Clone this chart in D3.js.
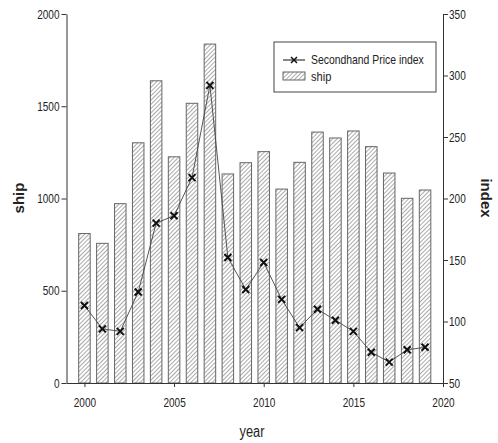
<!DOCTYPE html>
<html>
<head>
<meta charset="utf-8">
<script src="https://cdn.jsdelivr.net/npm/d3@7"></script>
<style>
  body { margin: 0; background: #fff; }
  svg text { font-family: "Liberation Sans", Arial, sans-serif; fill: #222; }
</style>
</head>
<body>
<svg id="chart" width="498" height="443"></svg>
<script>
// data
const years = [2000, 2001, 2002, 2003, 2004, 2005, 2006, 2007, 2008, 2009,
               2010, 2011, 2012, 2013, 2014, 2015, 2016, 2017, 2018, 2019];
const ship = [810, 757, 972, 1302, 1638, 1226, 1516, 1837, 1133, 1194,
              1254, 1051, 1196, 1360, 1328, 1366, 1281, 1138, 1001, 1046];
const priceIndex = [113, 94, 92, 124, 180, 186, 217, 292, 152, 126,
                    148, 118, 95, 110, 101, 92, 75, 67, 77, 79];
const xTicks = [2000, 2005, 2010, 2015, 2020];
const shipTicks = [0, 500, 1000, 1500, 2000];
const indexTicks = [50, 100, 150, 200, 250, 300, 350];

const svg = d3.select("#chart");
const plotL = 66.5, plotR = 443, plotT = 14, plotB = 383;

const x = d3.scaleLinear().domain([1999, 2020]).range([plotL, plotR]);
const yShip = d3.scaleLinear().domain([0, 2000]).range([plotB, plotT]);
const yIdx = d3.scaleLinear().domain([50, 350]).range([plotB, plotT]);

// squeeze text horizontally, the original uses a narrow font
const condense = (sel, k) => sel.each(function () {
  const w = this.getComputedTextLength();
  d3.select(this).attr("textLength", w * k).attr("lengthAdjust", "spacingAndGlyphs");
});

// hatch pattern for the bars
const defs = svg.append("defs");
defs.append("pattern")
  .attr("id", "hatch")
  .attr("patternUnits", "userSpaceOnUse")
  .attr("width", 3).attr("height", 3)
  .attr("patternTransform", "rotate(45)")
  .append("line")
  .attr("x1", 0).attr("y1", 0).attr("x2", 0).attr("y2", 3)
  .attr("stroke", "#555").attr("stroke-width", 1);

const barW = 11.5;
svg.append("g").selectAll("rect")
  .data(years)
  .enter()
  .append("rect")
  .attr("x", (d) => x(d) - barW / 2)
  .attr("y", (d, i) => yShip(ship[i]))
  .attr("width", barW)
  .attr("height", (d, i) => plotB - yShip(ship[i]))
  .attr("fill", "url(#hatch)")
  .attr("stroke", "#666")
  .attr("stroke-width", 1);

// axes
const fmt = d3.format("d");
const axL = svg.append("g").attr("transform", `translate(${plotL},0)`)
  .call(d3.axisLeft(yShip).tickValues(shipTicks).tickSize(5).tickSizeOuter(0).tickFormat(fmt));
const axR = svg.append("g").attr("transform", `translate(${plotR},0)`)
  .call(d3.axisRight(yIdx).tickValues(indexTicks).tickSize(5).tickSizeOuter(0).tickFormat(fmt));
const axB = svg.append("g").attr("transform", `translate(0,${plotB})`)
  .call(d3.axisBottom(x).tickValues(xTicks).tickSize(4).tickSizeOuter(0).tickFormat(fmt));

[axL, axR, axB].forEach((g) => {
  g.selectAll("path, line").attr("stroke", "#333");
  g.selectAll("text").attr("font-size", 13).attr("fill", "#222")
    .attr("font-family", "'Liberation Sans', Arial, sans-serif");
  condense(g.selectAll("text"), 0.77);
});
axL.selectAll("text").attr("x", -7);
axR.selectAll("text").attr("x", 6);
axB.selectAll("text").attr("y", 15);

// price index line
const line = d3.line()
  .x((d, i) => x(years[i]))
  .y((d) => yIdx(d));
svg.append("path")
  .datum(priceIndex)
  .attr("d", line)
  .attr("fill", "none")
  .attr("stroke", "#444")
  .attr("stroke-width", 0.9);

const m = 3.5;
const crossPath = `M${-m},${-m}L${m},${m}M${-m},${m}L${m},${-m}`;
svg.append("g").selectAll("path")
  .data(priceIndex)
  .enter()
  .append("path")
  .attr("transform", (d, i) => `translate(${x(years[i])},${yIdx(d)})`)
  .attr("d", crossPath)
  .attr("stroke", "#111")
  .attr("stroke-width", 2);

// axis titles
svg.append("text")
  .attr("transform", "translate(24,198) rotate(-90)")
  .attr("text-anchor", "middle")
  .attr("font-size", 15).attr("font-weight", "bold")
  .text("ship");
svg.append("text")
  .attr("transform", "translate(481,198) rotate(90)")
  .attr("text-anchor", "middle")
  .attr("font-size", 15).attr("font-weight", "bold")
  .text("index");
svg.append("text")
  .attr("x", 252).attr("y", 437)
  .attr("text-anchor", "middle")
  .attr("font-size", 16)
  .text("year")
  .call(condense, 0.8);

// legend
const lg = svg.append("g");
lg.append("rect")
  .attr("x", 274).attr("y", 42).attr("width", 162).attr("height", 50)
  .attr("fill", "#fff").attr("stroke", "#444").attr("stroke-width", 1);
lg.append("line")
  .attr("x1", 283).attr("x2", 305).attr("y1", 60).attr("y2", 60)
  .attr("stroke", "#111").attr("stroke-width", 1);
lg.append("path")
  .attr("transform", "translate(294,60)")
  .attr("d", `M-3,-3L3,3M-3,3L3,-3`)
  .attr("stroke", "#111").attr("stroke-width", 1.5);
lg.append("text").attr("x", 311).attr("y", 64).attr("font-size", 13)
  .text("Secondhand Price index")
  .call(condense, 0.8);
lg.append("rect")
  .attr("x", 283).attr("y", 72).attr("width", 22).attr("height", 8)
  .attr("fill", "url(#hatch)").attr("stroke", "#666");
lg.append("text").attr("x", 311).attr("y", 81).attr("font-size", 13)
  .text("ship")
  .call(condense, 0.85);
</script>
</body>
</html>
